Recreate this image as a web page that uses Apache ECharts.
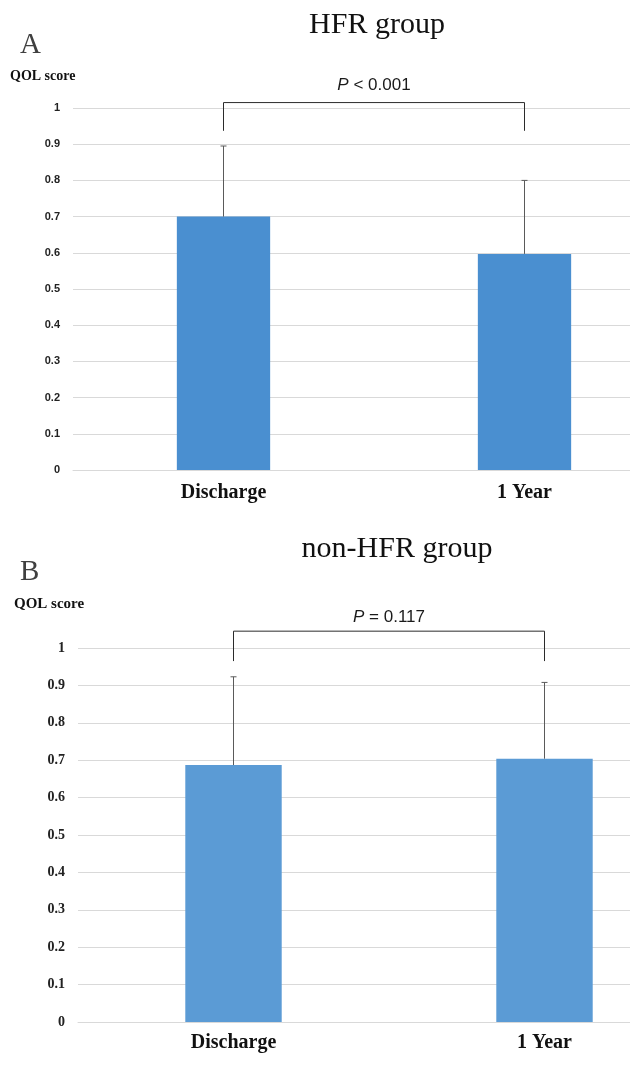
<!DOCTYPE html>
<html>
<head>
<meta charset="utf-8">
<script src="https://cdn.jsdelivr.net/npm/echarts@6/dist/echarts.min.js"></script>
<style>
html,body{margin:0;padding:0;background:#fff;overflow:hidden;width:630px;height:1072px;}
#chart{width:720px;height:1072px;}
</style>
</head>
<body>
<div id="chart"></div>
<script>
const categories = ['Discharge', '1 Year'];
const hfrMeans = [0.70, 0.597];
const hfrErrTop = [0.895, 0.800];
const nonHfrMeans = [0.687, 0.704];
const nonHfrErrTop = [0.923, 0.908];
const panelTitles = ['HFR group', 'non-HFR group'];
const panelLetters = ['A', 'B'];
const yAxisName = 'QOL score';
const pPrefix = 'P';
const pRest = [' < 0.001', ' = 0.117'];

const chart = echarts.init(document.getElementById('chart'));

function errorBarSeries(idx, tops, means) {
  return {
    type: 'custom',
    xAxisIndex: idx, yAxisIndex: idx,
    data: categories.map((c, i) => [i, means[i], tops[i]]),
    clip: false,
    z: 5,
    renderItem: function (params, api) {
      const x = api.coord([api.value(0), api.value(1)])[0];
      const yb = api.coord([api.value(0), api.value(1)])[1];
      const yt = api.coord([api.value(0), api.value(2)])[1];
      const cap = 3;
      const st = { stroke: '#5a5a5a', lineWidth: 1 };
      return {
        type: 'group',
        children: [
          { type: 'line', shape: { x1: x, y1: yb, x2: x, y2: yt }, style: st },
          { type: 'line', shape: { x1: x - cap, y1: yt, x2: x + cap, y2: yt }, style: st }
        ]
      };
    }
  };
}

function bracketSeries(idx, topVal, legVal, textVal, txt, font, fontSize) {
  return {
    type: 'custom',
    xAxisIndex: idx, yAxisIndex: idx,
    data: [[0, 1]],
    clip: false,
    z: 6,
    renderItem: function (params, api) {
      const p1 = api.coord([0, topVal]);
      const p2 = api.coord([1, topVal]);
      const yl = api.coord([0, legVal])[1];
      const yt = api.coord([0, textVal])[1];
      return {
        type: 'group',
        children: [
          { type: 'polyline', shape: { points: [[p1[0], yl], [p1[0], p1[1]], [p2[0], p2[1]], [p2[0], yl]] },
            style: { stroke: '#2b2b2b', lineWidth: 1, fill: null } },
          { type: 'text', x: (p1[0] + p2[0]) / 2, y: yt,
            style: { text: '{i|' + pPrefix + '}' + txt, align: 'center', verticalAlign: 'middle',
              fontFamily: font, fontSize: fontSize, fill: '#1a1a1a',
              rich: { i: { fontStyle: 'italic', fontFamily: font, fontSize: fontSize, fill: '#1a1a1a' } } } }
        ]
      };
    }
  };
}

const gridA = { left: 73, top: 108, width: 602, height: 362 };
const gridB = { left: 78, top: 648, width: 622, height: 374 };

chart.setOption({
  animation: false,
  backgroundColor: '#ffffff',
  grid: [gridA, gridB],
  xAxis: [
    { type: 'category', gridIndex: 0, data: categories,
      axisLine: { show: true, lineStyle: { color: '#d9d9d9' } }, axisTick: { show: false },
      axisLabel: { margin: 13, fontFamily: 'Liberation Serif', fontWeight: 'bold', fontSize: 20, color: '#111' } },
    { type: 'category', gridIndex: 1, data: categories,
      axisLine: { show: true, lineStyle: { color: '#d9d9d9' } }, axisTick: { show: false },
      axisLabel: { margin: 11, fontFamily: 'Liberation Serif', fontWeight: 'bold', fontSize: 20, color: '#111' } }
  ],
  yAxis: [
    { type: 'value', gridIndex: 0, min: 0, max: 1, interval: 0.1,
      axisLine: { show: false }, axisTick: { show: false },
      splitLine: { lineStyle: { color: '#d9d9d9', width: 1 } },
      axisLabel: { margin: 13, fontFamily: 'Liberation Sans', fontWeight: 'bold', fontSize: 11, color: '#222' } },
    { type: 'value', gridIndex: 1, min: 0, max: 1, interval: 0.1,
      axisLine: { show: false }, axisTick: { show: false },
      splitLine: { lineStyle: { color: '#d9d9d9', width: 1 } },
      axisLabel: { margin: 13, fontFamily: 'Liberation Serif', fontWeight: 'bold', fontSize: 14, color: '#222' } }
  ],
  graphic: [
    { type: 'text', x: 377, y: 25, style: { text: panelTitles[0], align: 'center', verticalAlign: 'middle', fontFamily: 'Liberation Serif', fontSize: 30, fill: '#111' } },
    { type: 'text', x: 20, y: 45, style: { text: panelLetters[0], align: 'left', verticalAlign: 'middle', fontFamily: 'Liberation Serif', fontSize: 29, fill: '#404040' } },
    { type: 'text', x: 10, y: 76, style: { text: yAxisName, align: 'left', verticalAlign: 'middle', fontFamily: 'Liberation Serif', fontWeight: 'bold', fontSize: 14, fill: '#111' } },
    { type: 'text', x: 397, y: 549, style: { text: panelTitles[1], align: 'center', verticalAlign: 'middle', fontFamily: 'Liberation Serif', fontSize: 30, fill: '#111' } },
    { type: 'text', x: 20, y: 572, style: { text: panelLetters[1], align: 'left', verticalAlign: 'middle', fontFamily: 'Liberation Serif', fontSize: 29, fill: '#404040' } },
    { type: 'text', x: 14, y: 604, style: { text: yAxisName, align: 'left', verticalAlign: 'middle', fontFamily: 'Liberation Serif', fontWeight: 'bold', fontSize: 15, fill: '#111' } }
  ],
  series: [
    { type: 'bar', xAxisIndex: 0, yAxisIndex: 0, data: hfrMeans, barWidth: '31%',
      itemStyle: { color: '#4a8fd0' } },
    errorBarSeries(0, hfrErrTop, hfrMeans),
    bracketSeries(0, 1.015, 0.937, 1.063, pRest[0], 'Liberation Sans', 17),
    { type: 'bar', xAxisIndex: 1, yAxisIndex: 1, data: nonHfrMeans, barWidth: '31%',
      itemStyle: { color: '#5b9bd5' } },
    errorBarSeries(1, nonHfrErrTop, nonHfrMeans),
    bracketSeries(1, 1.045, 0.965, 1.083, pRest[1], 'Liberation Sans', 17)
  ]
});
</script>
</body>
</html>
